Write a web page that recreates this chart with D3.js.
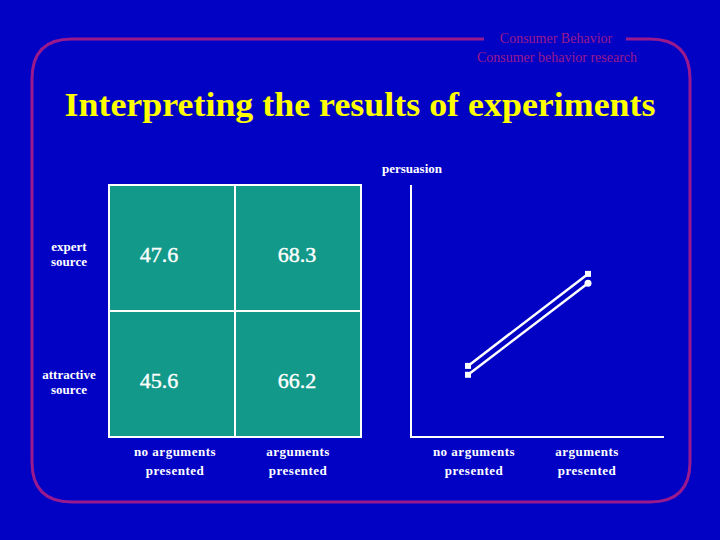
<!DOCTYPE html><html><head><meta charset="utf-8">
<script src="https://cdn.jsdelivr.net/npm/d3@7"></script>
<style>body{margin:0;background:#0202c4}</style></head><body>
<script>
const rowLabels=[["expert","source"],["attractive","source"]];
const colLabels=[["no arguments","presented"],["arguments","presented"]];
const cellValues=[[47.6,68.3],[45.6,66.2]];
const seriesNames=["expert source","attractive source"];
const seriesMarkers=["square","square-circle"];

const svg=d3.select("body").append("svg").attr("width",720).attr("height",540);
svg.append("rect").attr("width",720).attr("height",540).attr("fill","#0202c4");
const mag="#9a1a8e";
svg.append("path").attr("d","M484,39 L72,39 Q32,39 32,79 L32,462 Q32,502 72,502 L650,502 Q690,502 690,462 L690,79 Q690,39 650,39 L626,39")
 .attr("fill","none").attr("stroke",mag).attr("stroke-width",3);
svg.append("text").attr("x",556).attr("y",43).attr("text-anchor","middle").attr("fill",mag)
 .attr("font-family","Liberation Serif").attr("font-size",14).text("Consumer Behavior");
svg.append("text").attr("x",557).attr("y",62).attr("text-anchor","middle").attr("fill",mag)
 .attr("font-family","Liberation Serif").attr("font-size",14).text("Consumer behavior research");
svg.append("text").attr("x",360).attr("y",116).attr("text-anchor","middle").attr("fill","#ffff00")
 .attr("font-family","Liberation Serif").attr("font-weight","bold").attr("font-size",33)
 .attr("textLength",591).attr("lengthAdjust","spacingAndGlyphs").text("Interpreting the results of experiments");
svg.append("text").attr("x",412).attr("y",173).attr("text-anchor","middle").attr("fill","#fff")
 .attr("font-family","Liberation Serif").attr("font-weight","bold").attr("font-size",13).text("persuasion");

const tx=d3.scaleBand().domain([0,1]).range([109,361]);
const ty=d3.scaleBand().domain([0,1]).range([185,437]);
svg.append("rect").attr("x",109).attr("y",185).attr("width",252).attr("height",252).attr("fill","#13998a").attr("stroke","#fff").attr("stroke-width",2);
svg.append("line").attr("x1",235).attr("x2",235).attr("y1",185).attr("y2",437).attr("stroke","#fff").attr("stroke-width",2);
svg.append("line").attr("x1",109).attr("x2",361).attr("y1",311).attr("y2",311).attr("stroke","#fff").attr("stroke-width",2);
cellValues.forEach((row,i)=>row.forEach((v,j)=>{
 svg.append("text").attr("x",tx(j)+50+j*12).attr("y",ty(i)+77).attr("text-anchor","middle").attr("fill","#fff")
  .attr("font-family","Liberation Serif").attr("font-size",22).attr("stroke","#fff").attr("stroke-width",0.4).text(v.toFixed(1));
}));
rowLabels.forEach((l,i)=>{
 const t=svg.append("text").attr("y",ty(i)+66+(i?2:0)).attr("text-anchor","middle").attr("fill","#fff")
  .attr("font-family","Liberation Serif").attr("font-weight","bold").attr("font-size",13);
 l.forEach((s,k)=>t.append("tspan").attr("x",69).attr("dy",k?15:0).text(s));
});
const colText=(x,l)=>{const t=svg.append("text").attr("y",456).attr("text-anchor","middle").attr("fill","#fff")
  .attr("font-family","Liberation Serif").attr("font-weight","bold").attr("font-size",13).attr("letter-spacing",0.5);
 l.forEach((s,k)=>t.append("tspan").attr("x",x).attr("dy",k?19:0).text(s));};
colText(175,colLabels[0]);colText(298,colLabels[1]);

const x=d3.scalePoint().domain([0,1]).range([468,588]);
const y=d3.scaleLinear().domain([31.6,88.3]).range([437,185]);
svg.append("line").attr("x1",411).attr("x2",411).attr("y1",185).attr("y2",438).attr("stroke","#fff").attr("stroke-width",2);
svg.append("line").attr("x1",410).attr("x2",664).attr("y1",437).attr("y2",437).attr("stroke","#fff").attr("stroke-width",2);
cellValues.forEach((row,i)=>{
 svg.append("path").attr("d",d3.line().x((d,j)=>x(j)).y(d=>y(d))(row)).attr("stroke","#fff").attr("stroke-width",2.5).attr("fill","none");
 row.forEach((v,j)=>{
  if(seriesMarkers[i]==="square-circle"&&j===1) svg.append("circle").attr("cx",x(j)).attr("cy",y(v)).attr("r",3.5).attr("fill","#fff");
  else svg.append("rect").attr("x",x(j)-3).attr("y",y(v)-3).attr("width",6).attr("height",6).attr("fill","#fff");
 });
});
colText(474,colLabels[0]);colText(587,colLabels[1]);
</script></body></html>
